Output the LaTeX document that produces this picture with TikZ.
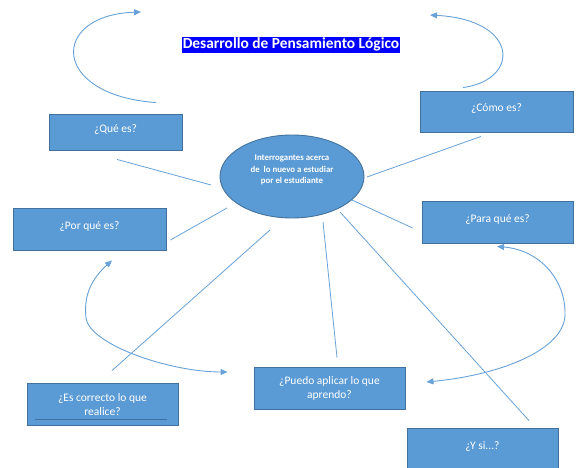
\documentclass[tikz,border=0pt]{standalone}
\usepackage{fontspec}
\setmainfont{Carlito}
\usetikzlibrary{arrows.meta,shapes.geometric,calc}

\definecolor{boxblue}{RGB}{91,155,213}
\definecolor{boxline}{RGB}{65,113,156}
\definecolor{linkblue}{RGB}{104,162,216}
\definecolor{titleblue}{RGB}{0,0,255}

\begin{document}
\begin{tikzpicture}[x=1pt,y=-1pt,>={Triangle[length=7pt,width=6pt]},
  box/.style={rectangle,draw=boxline,line width=0.9pt,fill=boxblue,text=white,
    font=\fontsize{11.5}{14}\selectfont,align=center,inner sep=2pt},
  uptext/.style={text height=8pt,text depth=7.5pt},
  idea/.style={ellipse,draw=boxline,line width=0.9pt,fill=boxblue,text=white,
    font=\bfseries\fontsize{8.8}{11.5}\selectfont,align=center,
    minimum width=144pt,minimum height=83pt,inner sep=0pt},
  link/.style={draw=linkblue,line width=0.8pt},
  swing/.style={draw=linkblue,line width=0.9pt}]

  \fill[white] (0,0) rectangle (579,468);
  \useasboundingbox (0,0) rectangle (579,468);

  \node[fill=titleblue,text=white,font=\bfseries\fontsize{15.4}{17}\selectfont,
    text height=11.5pt,text depth=3.5pt,inner xsep=1pt,inner ysep=0.5pt] (title) at (291,45) {Desarrollo de Pensamiento Lógico};

  \node[idea,text depth=14pt] (ell) at (292,176.5) {Interrogantes acerca\\de\ \ lo nuevo a estudiar\\por el estudiante};

  \node[box,uptext,minimum width=133pt,minimum height=36pt] (que) at (115.5,132) {¿Qué es?};
  \node[box,uptext,minimum width=153pt,minimum height=41pt] (como) at (496.5,111.5) {¿Cómo es?};
  \node[box,uptext,minimum width=153pt,minimum height=42pt] (porque) at (89.5,229) {¿Por qué es?};
  \node[box,uptext,minimum width=151pt,minimum height=42pt] (para) at (497.5,222) {¿Para qué es?};
  \node[box,minimum width=151pt,minimum height=42pt] (correcto) at (102.5,404.5) {¿Es correcto lo que\\realice?};
  \node[box,minimum width=151pt,minimum height=42pt] (puedo) at (329.5,388) {¿Puedo aplicar lo que\\aprendo?};
  \node[box,uptext,minimum width=151pt,minimum height=42pt] (ysi) at (482.5,449) {¿Y si...?};

  \draw[boxline,line width=0.9pt] ($(correcto.south west)+(8,-6.5)$) -- ($(correcto.south east)+(-11,-6.5)$);

  % lines from the questions to the centre
  \path[link]
    ($(que.south)+(1.5,9)$) edge ($(ell)+(-81,8.5)$)
    ($(ell)+(75,0.5)$) edge ($(como.south)+(-15.5,4)$)
    ($(porque.east)+(4,11)$) edge ($(ell)+(-65,31.5)$)
    ($(ell)+(60,23.5)$) edge ($(para.west)+(-9,6)$)
    ($(correcto.north)+(9.5,-12.5)$) edge ($(ell)+(-22,53.5)$)
    ($(ell)+(31,45.5)$) edge ($(puedo.north)+(7.5,-9)$)
    ($(ell)+(48,35.5)$) edge ($(ysi.north)+(46.5,-7)$);

  % curved arrows
  \coordinate (tlend) at (141,12);
  \coordinate (trend) at (430,15);
  \draw[swing,->] ($(que.north)+(40.5,-11)$) .. controls (50,95) and (50,15) .. (tlend);
  \draw[swing,->] ($(como.north)+(-33.5,-3)$) .. controls (520,80) and (520,20) .. (trend);
  \draw[swing,<->] ($(porque.south)+(22.5,10)$) .. controls (88,282) and (84,300) .. (86,318)
    .. controls (90,345) and (170,372) .. ($(puedo.west)+(-26,-16)$);
  \draw[swing,<->] ($(para.south)+(-0.5,3)$) .. controls (540,250) and (566,280) .. (565,315)
    .. controls (564,350) and (500,375) .. ($(puedo.east)+(21,-6)$);
\end{tikzpicture}
\end{document}
